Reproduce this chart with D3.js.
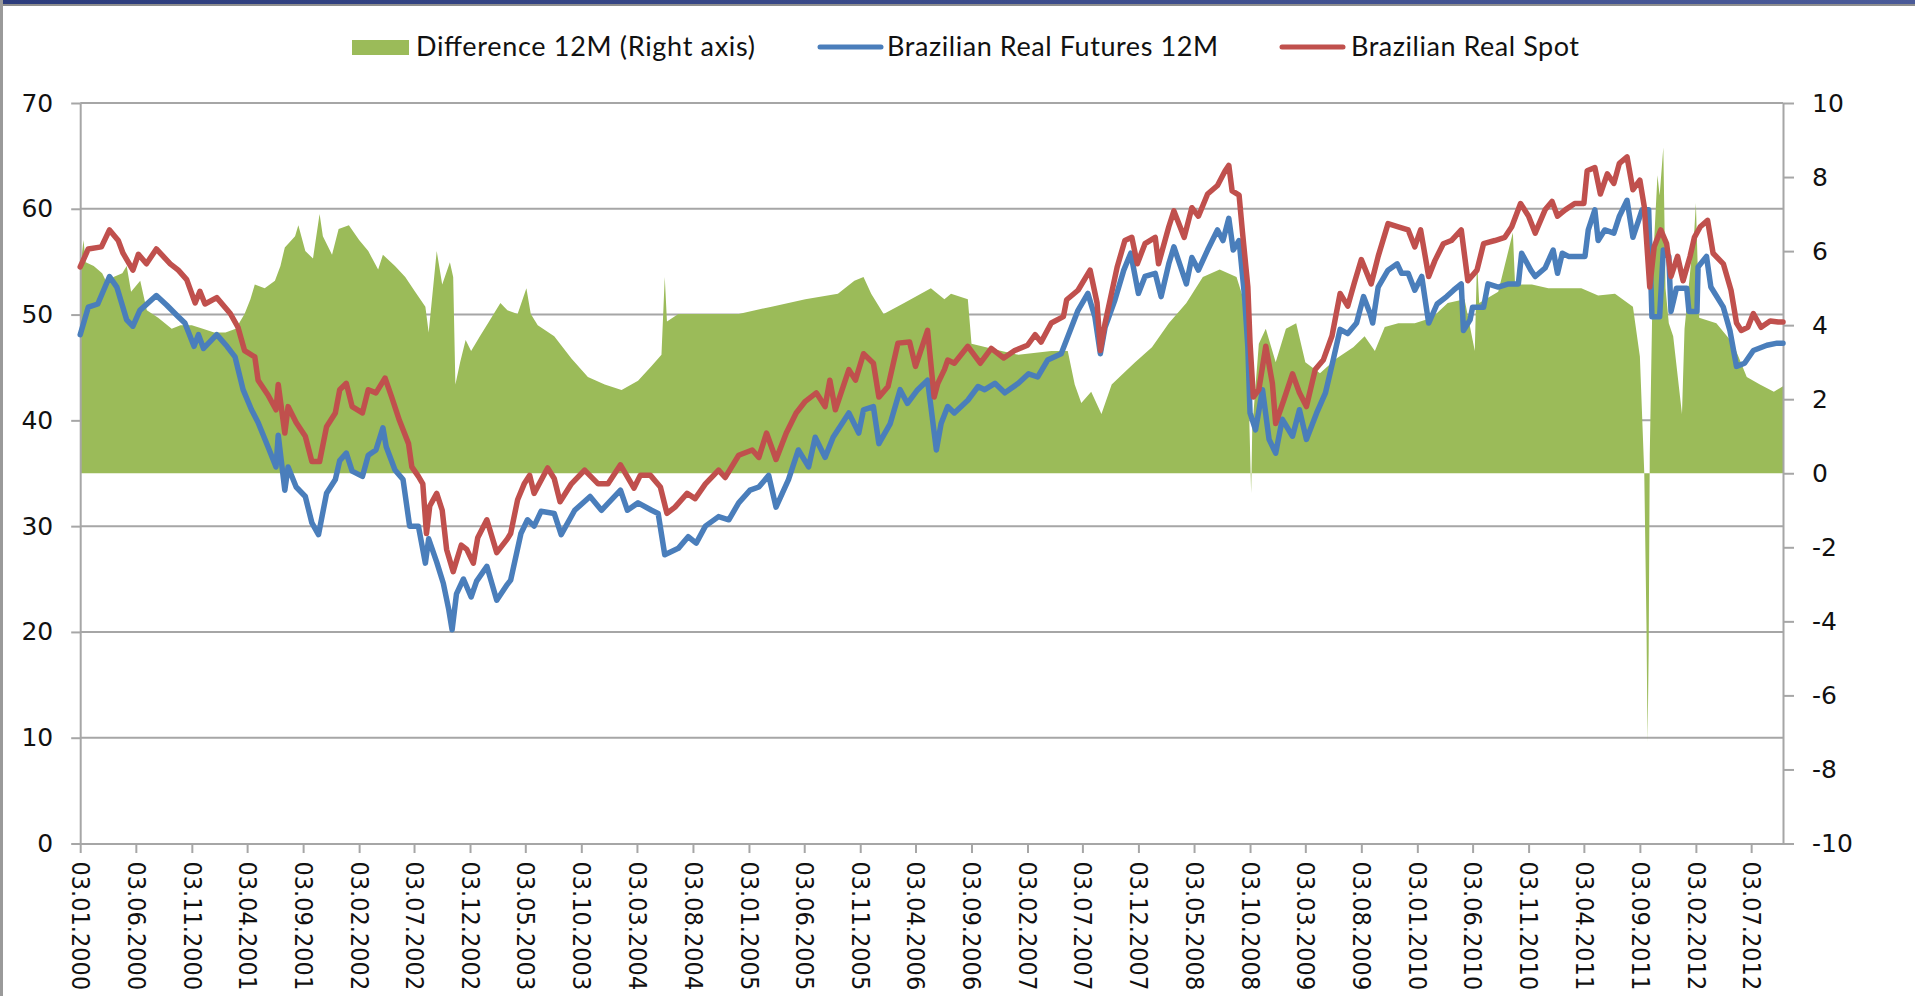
<!DOCTYPE html>
<html><head><meta charset="utf-8">
<script src="https://cdn.jsdelivr.net/npm/d3@7"></script>
<style>html,body{margin:0;padding:0;background:#fff;overflow:hidden}</style>
</head><body>
<svg id="chart" width="1915" height="996"></svg>
<script>
// ---------- DATA ----------
const legendLabels = ["Difference 12M (Right axis)", "Brazilian Real Futures 12M", "Brazilian Real Spot"];
const tickLabels = ["03.01.2000","03.06.2000","03.11.2000","03.04.2001","03.09.2001","03.02.2002","03.07.2002","03.12.2002","03.05.2003","03.10.2003","03.03.2004","03.08.2004","03.01.2005","03.06.2005","03.11.2005","03.04.2006","03.09.2006","03.02.2007","03.07.2007","03.12.2007","03.05.2008","03.10.2008","03.03.2009","03.08.2009","03.01.2010","03.06.2010","03.11.2010","03.04.2011","03.09.2011","03.02.2012","03.07.2012"];
const leftTicks = [0,10,20,30,40,50,60,70];
const rightTicks = [-10,-8,-6,-4,-2,0,2,4,6,8,10];

const spotData = [
["2000-01-03",54.5],["2000-01-25",56.2],["2000-03-01",56.4],["2000-03-23",58.0],["2000-04-16",57.0],["2000-04-29",55.8],
["2000-05-26",54.2],["2000-06-10",55.7],["2000-07-02",54.8],["2000-07-29",56.2],["2000-09-05",54.8],["2000-09-27",54.2],
["2000-10-20",53.3],["2000-11-12",51.1],["2000-11-25",52.2],["2000-12-09",51.0],["2001-01-10",51.6],["2001-02-16",50.1],
["2001-03-09",48.8],["2001-03-27",46.6],["2001-04-24",46.0],["2001-05-03",43.8],["2001-05-30",42.4],["2001-06-21",41.0],
["2001-06-27",43.4],["2001-07-15",38.8],["2001-07-24",41.3],["2001-08-15",39.8],["2001-09-09",38.5],["2001-09-27",36.1],
["2001-10-18",36.1],["2001-11-06",39.4],["2001-11-30",40.7],["2001-12-12",42.9],["2001-12-30",43.5],["2002-01-15",41.3],
["2002-02-12",40.7],["2002-02-28",42.9],["2002-03-21",42.6],["2002-04-15",44.0],["2002-05-03",42.2],["2002-05-24",40.0],
["2002-06-18",37.8],["2002-06-27",35.6],["2002-07-15",34.7],["2002-07-27",34.0],["2002-08-06",29.3],["2002-08-15",31.9],
["2002-09-03",33.1],["2002-09-18",31.5],["2002-09-30",27.8],["2002-10-18",25.7],["2002-11-09",28.2],["2002-11-24",27.8],
["2002-12-12",26.5],["2002-12-24",28.9],["2003-01-18",30.6],["2003-02-14",27.5],["2003-03-15",28.8],["2003-03-24",29.3],
["2003-04-12",32.5],["2003-04-30",34.0],["2003-05-15",34.8],["2003-05-27",33.1],["2003-07-03",35.5],["2003-07-21",34.5],
["2003-08-06",32.3],["2003-09-06",34.0],["2003-10-12",35.3],["2003-11-18",34.0],["2003-12-15",34.0],["2004-01-18",35.8],
["2004-02-24",33.6],["2004-03-12",34.8],["2004-04-09",34.8],["2004-05-06",33.7],["2004-05-24",31.2],["2004-06-15",31.8],
["2004-07-18",33.1],["2004-08-09",32.6],["2004-09-06",34.0],["2004-10-12",35.3],["2004-10-30",34.6],["2004-12-06",36.7],
["2005-01-12",37.2],["2005-01-30",36.5],["2005-02-20",38.8],["2005-03-18",36.3],["2005-04-15",38.8],["2005-05-12",40.7],
["2005-06-06",41.8],["2005-07-06",42.6],["2005-07-30",41.3],["2005-08-12",43.8],["2005-08-27",41.0],["2005-10-03",44.8],
["2005-10-21",43.8],["2005-11-12",46.3],["2005-12-09",45.4],["2005-12-24",42.2],["2006-01-18",43.2],["2006-02-14",47.3],
["2006-03-18",47.4],["2006-04-03",45.1],["2006-05-06",48.5],["2006-05-24",42.2],["2006-06-03",43.5],["2006-06-21",44.8],
["2006-06-30",45.7],["2006-07-18",45.4],["2006-08-24",47.0],["2006-09-27",45.4],["2006-10-27",46.8],["2006-11-30",45.9],
["2006-12-30",46.6],["2007-02-03",47.1],["2007-02-24",48.1],["2007-03-12",47.4],["2007-04-09",49.2],["2007-05-12",49.8],
["2007-05-21",51.4],["2007-06-21",52.3],["2007-07-24",54.2],["2007-08-12",51.1],["2007-08-21",46.6],["2007-09-03",49.2],
["2007-10-06",54.5],["2007-10-27",57.0],["2007-11-15",57.3],["2007-11-30",54.8],["2007-12-21",56.7],["2008-01-18",57.3],
["2008-01-27",54.8],["2008-02-24",58.3],["2008-03-09",59.8],["2008-04-06",57.3],["2008-04-27",60.1],["2008-05-15",59.3],
["2008-06-09",61.4],["2008-07-06",62.2],["2008-07-27",63.6],["2008-08-06",64.1],["2008-08-15",61.7],["2008-09-03",61.3],
["2008-09-12",57.9],["2008-09-27",52.6],["2008-10-03",47.3],["2008-10-12",42.2],["2008-10-27",42.9],["2008-11-15",47.0],
["2008-12-03",43.5],["2008-12-12",39.7],["2009-01-03",41.9],["2009-01-27",44.4],["2009-02-15",42.6],["2009-03-06",41.3],
["2009-03-30",44.8],["2009-04-21",45.7],["2009-05-15",48.0],["2009-06-06",52.0],["2009-06-27",50.8],["2009-07-15",53.0],
["2009-08-03",55.2],["2009-08-30",52.9],["2009-09-18",55.5],["2009-10-15",58.6],["2009-11-12",58.3],["2009-12-09",58.0],
["2009-12-27",56.4],["2010-01-12",58.0],["2010-02-03",53.6],["2010-02-20",55.1],["2010-03-15",56.7],["2010-04-06",57.0],
["2010-05-03",58.0],["2010-05-21",53.2],["2010-06-15",54.2],["2010-07-03",56.7],["2010-08-03",57.0],["2010-08-30",57.3],
["2010-09-18",58.3],["2010-10-12",60.5],["2010-11-03",59.3],["2010-11-21",57.7],["2010-12-18",59.9],["2011-01-06",60.7],
["2011-01-21",59.3],["2011-02-11",59.9],["2011-03-09",60.5],["2011-04-03",60.5],["2011-04-12",63.6],["2011-05-03",63.9],
["2011-05-18",61.4],["2011-06-06",63.3],["2011-06-24",62.4],["2011-07-09",64.3],["2011-07-30",64.9],["2011-08-15",61.8],
["2011-09-03",62.7],["2011-09-15",60.2],["2011-09-30",52.6],["2011-10-12",56.4],["2011-10-30",58.0],["2011-11-15",56.7],
["2011-11-27",53.6],["2011-12-15",55.5],["2011-12-30",53.2],["2012-01-18",55.5],["2012-01-30",57.3],["2012-02-15",58.3],
["2012-03-06",58.9],["2012-03-21",55.8],["2012-04-18",54.8],["2012-05-09",52.3],["2012-05-24",49.2],["2012-06-06",48.5],
["2012-06-24",48.8],["2012-07-09",50.1],["2012-07-30",48.8],["2012-08-24",49.4],["2012-09-15",49.3],["2012-09-28",49.3]
];

const futuresData = [
["2000-01-03",48.1],["2000-01-25",50.7],["2000-02-20",51.0],["2000-03-23",53.6],["2000-04-12",52.6],["2000-05-09",49.5],
["2000-05-26",48.9],["2000-06-14",50.4],["2000-07-29",51.8],["2000-08-26",50.9],["2000-09-27",49.8],["2000-10-15",49.2],
["2000-11-09",47.0],["2000-11-21",48.1],["2000-12-05",46.8],["2001-01-10",48.1],["2001-02-07",47.0],["2001-03-01",46.0],
["2001-03-23",42.9],["2001-04-15",41.0],["2001-05-03",39.8],["2001-05-30",37.5],["2001-06-21",35.6],["2001-06-27",38.6],
["2001-07-15",33.4],["2001-07-24",35.6],["2001-08-15",33.7],["2001-09-09",32.8],["2001-09-27",30.3],["2001-10-15",29.2],
["2001-11-06",33.1],["2001-11-30",34.4],["2001-12-12",36.2],["2001-12-30",36.9],["2002-01-15",35.2],["2002-02-12",34.7],
["2002-02-28",36.7],["2002-03-21",37.2],["2002-04-09",39.3],["2002-04-18",37.5],["2002-05-12",35.3],["2002-06-03",34.4],
["2002-06-21",30.0],["2002-07-15",30.0],["2002-08-03",26.5],["2002-08-12",28.8],["2002-09-03",26.6],["2002-09-21",24.6],
["2002-10-06",22.1],["2002-10-15",20.2],["2002-10-27",23.6],["2002-11-15",25.0],["2002-12-06",23.3],["2002-12-21",24.8],
["2003-01-18",26.2],["2003-02-14",23.0],["2003-03-15",24.5],["2003-03-24",24.9],["2003-04-21",29.3],["2003-05-09",30.6],
["2003-05-27",30.0],["2003-06-15",31.4],["2003-07-21",31.2],["2003-08-09",29.2],["2003-09-15",31.5],["2003-10-27",32.8],
["2003-11-27",31.5],["2004-01-18",33.4],["2004-02-06",31.5],["2004-03-06",32.2],["2004-04-12",31.5],["2004-04-30",31.2],
["2004-05-18",27.3],["2004-06-24",27.9],["2004-07-21",29.0],["2004-08-12",28.4],["2004-09-06",30.0],["2004-10-12",30.9],
["2004-11-09",30.6],["2004-12-06",32.2],["2005-01-06",33.4],["2005-01-30",33.7],["2005-02-26",34.8],["2005-03-18",31.8],
["2005-04-21",34.4],["2005-05-18",37.2],["2005-06-15",35.6],["2005-07-03",38.4],["2005-07-30",36.5],["2005-08-21",38.4],
["2005-10-03",40.7],["2005-10-30",38.8],["2005-11-12",41.0],["2005-12-09",41.3],["2005-12-24",37.8],["2006-01-24",39.7],
["2006-02-20",42.9],["2006-03-12",41.6],["2006-04-09",42.9],["2006-05-06",43.8],["2006-05-30",37.2],["2006-06-12",39.7],
["2006-06-30",41.3],["2006-07-18",40.7],["2006-08-24",41.9],["2006-09-21",43.2],["2006-10-09",42.9],["2006-11-06",43.5],
["2006-12-03",42.6],["2007-01-09",43.5],["2007-02-06",44.4],["2007-03-03",44.1],["2007-03-30",45.7],["2007-05-06",46.3],
["2007-05-24",47.9],["2007-06-21",50.4],["2007-07-18",52.0],["2007-08-06",49.8],["2007-08-21",46.3],["2007-09-03",48.8],
["2007-09-30",51.4],["2007-10-24",54.2],["2007-11-12",55.8],["2007-12-03",52.0],["2007-12-21",53.6],["2008-01-18",53.9],
["2008-02-03",51.7],["2008-02-24",54.8],["2008-03-09",56.4],["2008-04-12",52.9],["2008-04-27",55.4],["2008-05-15",54.2],
["2008-06-09",56.1],["2008-07-06",58.0],["2008-07-21",57.0],["2008-08-06",59.1],["2008-08-18",56.1],["2008-09-03",57.0],
["2008-09-18",51.7],["2008-09-27",46.9],["2008-10-03",40.7],["2008-10-18",39.1],["2008-11-06",42.9],["2008-11-24",38.2],
["2008-12-12",36.9],["2008-12-30",40.1],["2009-01-27",38.5],["2009-02-15",41.0],["2009-03-06",38.2],["2009-04-03",40.7],
["2009-04-27",42.6],["2009-05-18",45.7],["2009-06-06",48.6],["2009-06-27",48.2],["2009-07-21",49.2],["2009-08-09",51.7],
["2009-08-27",50.1],["2009-09-03",49.2],["2009-09-18",52.6],["2009-10-15",54.2],["2009-11-09",54.8],["2009-11-21",53.9],
["2009-12-09",53.9],["2009-12-27",52.3],["2010-01-15",53.6],["2010-02-03",49.2],["2010-02-26",51.0],["2010-03-24",51.7],
["2010-04-12",52.3],["2010-05-03",52.9],["2010-05-09",48.5],["2010-05-27",49.5],["2010-06-03",50.7],["2010-07-03",50.7],
["2010-07-15",52.9],["2010-08-12",52.6],["2010-09-09",52.9],["2010-10-06",52.9],["2010-10-15",55.8],["2010-11-09",54.2],
["2010-11-21",53.6],["2010-12-18",54.4],["2011-01-09",56.1],["2011-01-21",53.9],["2011-02-03",55.8],["2011-02-20",55.5],
["2011-04-06",55.5],["2011-04-15",58.0],["2011-05-03",59.9],["2011-05-12",57.0],["2011-05-30",58.0],["2011-06-24",57.7],
["2011-07-09",59.3],["2011-07-30",60.8],["2011-08-15",57.3],["2011-09-09",59.9],["2011-09-27",59.9],["2011-10-06",49.8],
["2011-10-27",49.8],["2011-11-06",56.1],["2011-11-21",55.5],["2011-11-27",50.3],["2011-12-12",52.5],["2012-01-09",52.5],
["2012-01-15",50.3],["2012-02-06",50.3],["2012-02-09",54.5],["2012-03-03",55.5],["2012-03-15",52.6],["2012-04-18",50.7],
["2012-05-06",48.5],["2012-05-24",45.1],["2012-06-15",45.4],["2012-07-09",46.6],["2012-08-15",47.1],["2012-09-12",47.3],
["2012-09-28",47.3]
];

const diffData = [
["2000-01-03",5.5],["2000-01-12",6.3],["2000-01-18",5.7],["2000-02-09",5.6],["2000-03-03",5.4],["2000-03-18",5.1],
["2000-04-03",5.3],["2000-04-27",5.4],["2000-05-09",5.6],["2000-05-21",4.9],["2000-06-15",5.2],["2000-07-03",4.4],
["2000-08-03",4.2],["2000-09-09",3.9],["2000-10-03",4.0],["2000-11-03",4.0],["2000-12-03",3.9],["2001-01-03",3.8],
["2001-02-03",3.8],["2001-03-03",3.9],["2001-03-27",4.3],["2001-04-12",4.7],["2001-04-24",5.1],["2001-05-21",5.0],
["2001-06-18",5.2],["2001-07-03",5.6],["2001-07-15",6.1],["2001-08-12",6.4],["2001-08-21",6.7],["2001-09-09",6.0],
["2001-09-30",5.8],["2001-10-18",7.0],["2001-10-27",6.4],["2001-11-21",5.9],["2001-12-09",6.6],["2002-01-06",6.7],
["2002-02-03",6.3],["2002-02-28",6.0],["2002-03-27",5.5],["2002-04-09",5.9],["2002-05-12",5.6],["2002-06-09",5.3],
["2002-07-06",4.9],["2002-08-03",4.5],["2002-08-12",3.8],["2002-09-03",6.0],["2002-09-18",5.1],["2002-10-09",5.7],
["2002-10-18",5.3],["2002-10-24",2.4],["2002-11-06",3.0],["2002-11-21",3.6],["2002-12-06",3.3],["2002-12-30",3.7],
["2003-01-24",4.1],["2003-02-24",4.6],["2003-03-15",4.4],["2003-04-12",4.3],["2003-05-06",5.0],["2003-05-18",4.3],
["2003-06-06",4.0],["2003-07-21",3.7],["2003-09-06",3.1],["2003-10-21",2.6],["2003-12-06",2.4],["2004-01-21",2.25],
["2004-03-06",2.5],["2004-04-12",2.9],["2004-05-09",3.2],["2004-05-18",5.3],["2004-05-24",4.1],["2004-06-24",4.3],
["2004-09-06",4.3],["2004-12-06",4.3],["2005-03-06",4.5],["2005-06-06",4.7],["2005-09-03",4.85],["2005-10-18",5.2],
["2005-11-12",5.3],["2005-12-03",4.85],["2006-01-06",4.3],["2006-03-03",4.6],["2006-05-15",5.0],["2006-06-21",4.7],
["2006-07-09",4.85],["2006-08-24",4.7],["2006-09-03",3.5],["2006-11-24",3.3],["2007-01-09",3.2],["2007-04-09",3.3],
["2007-05-24",3.3],["2007-06-12",2.4],["2007-06-30",1.9],["2007-07-27",2.2],["2007-08-24",1.6],["2007-09-21",2.4],
["2007-11-03",2.8],["2007-11-24",3.0],["2008-01-09",3.4],["2008-02-24",4.05],["2008-04-12",4.6],["2008-05-27",5.3],
["2008-07-12",5.5],["2008-08-27",5.3],["2008-09-12",4.8],["2008-09-27",3.0],["2008-10-06",-0.55],["2008-10-09",1.2],
["2008-10-27",3.5],["2008-11-15",3.9],["2008-12-12",3.0],["2009-01-09",3.9],["2009-02-06",4.05],["2009-03-03",3.0],
["2009-04-12",2.7],["2009-05-27",3.1],["2009-07-12",3.4],["2009-08-12",3.7],["2009-09-09",3.3],["2009-10-06",3.95],
["2009-11-12",4.05],["2009-12-27",4.05],["2010-02-12",4.2],["2010-03-27",4.6],["2010-05-12",4.7],["2010-06-09",3.3],
["2010-06-15",5.75],["2010-06-21",4.6],["2010-08-12",4.9],["2010-09-21",6.5],["2010-09-27",5.1],["2010-11-12",5.1],
["2010-12-27",5.0],["2011-02-11",5.0],["2011-03-27",5.0],["2011-05-12",4.8],["2011-06-27",4.85],["2011-08-15",4.5],
["2011-09-03",3.15],["2011-09-15",0.0],["2011-09-21",-4.1],["2011-09-24",-7.27],["2011-09-27",-4.8],["2011-09-30",0.5],
["2011-10-09",5.7],["2011-10-21",8.05],["2011-10-27",7.5],["2011-11-06",8.8],["2011-11-12",5.0],["2011-11-21",4.05],
["2011-12-03",3.7],["2011-12-27",1.6],["2012-01-03",3.9],["2012-01-30",6.6],["2012-02-03",7.3],["2012-02-12",4.2],
["2012-03-30",4.05],["2012-05-15",3.5],["2012-06-21",2.6],["2012-07-27",2.4],["2012-09-03",2.2],["2012-09-28",2.35]
];

// ---------- CHART ----------
const parse = d3.timeParse("%Y-%m-%d");
const parseTick = d3.timeParse("%d.%m.%Y");
const toObj = arr => arr.map(d => ({date: parse(d[0]), v: d[1]}));
const spot = toObj(spotData), fut = toObj(futuresData), diff = toObj(diffData);

const plot = {left: 80.2, right: 1783, top: 103, bottom: 843.5};
const svg = d3.select("#chart");
const colors = {diff: "#9bbb59", fut: "#4a7ebb", spot: "#c0504d", grid: "#a6a6a6", text: "#111"};

const x = d3.scaleTime()
  .domain([spot[0].date, spot[spot.length-1].date])
  .range([plot.left, plot.right]);
const yL = d3.scaleLinear().domain([0, 70]).range([plot.bottom, plot.top]);
const yR = d3.scaleLinear().domain([-10, 10]).range([plot.bottom, plot.top]);

// frame decoration
const defs = svg.append("defs");
const grad = defs.append("linearGradient").attr("id", "topbar").attr("x1", "0").attr("x2", "1");
grad.append("stop").attr("offset", "0").attr("stop-color", "#2c3c7c");
grad.append("stop").attr("offset", "1").attr("stop-color", "#4a5a98");
svg.append("rect").attr("x", 0).attr("y", 0).attr("width", 1915).attr("height", 996).attr("fill", "#fff");
svg.append("rect").attr("x", 0).attr("y", 0).attr("width", 1915).attr("height", 4).attr("fill", "url(#topbar)");
svg.append("rect").attr("x", 0).attr("y", 4).attr("width", 1915).attr("height", 2).attr("fill", "#8e8e8e");
svg.append("rect").attr("x", 0).attr("y", 0).attr("width", 3).attr("height", 996).attr("fill", "#9a9a9a");

// gridlines (behind series)
svg.append("g").selectAll("line").data(leftTicks.filter(v => v !== 0)).join("line")
  .attr("x1", plot.left).attr("x2", plot.right)
  .attr("y1", d => yL(d)).attr("y2", d => yL(d))
  .attr("stroke", colors.grid).attr("stroke-width", 2);

// difference columns (area to zero on right axis)
const area = d3.area().x(d => x(d.date)).y0(yR(0)).y1(d => yR(d.v)).curve(d3.curveLinear);
svg.append("path").datum(diff).attr("d", area).attr("fill", colors.diff);

// axes
const fontAxis = "'DejaVu Sans', sans-serif";
function styleAxis(g) {
  g.selectAll(".domain").attr("stroke", colors.grid).attr("stroke-width", 2);
  g.selectAll(".tick line").attr("stroke", colors.grid).attr("stroke-width", 2);
  g.selectAll("text").attr("fill", colors.text).style("font-family", fontAxis);
}
const gL = svg.append("g").attr("transform", `translate(${plot.left},0)`)
  .call(d3.axisLeft(yL).tickValues(leftTicks).tickSize(9).tickSizeOuter(0).tickPadding(18).tickFormat(d3.format("d")));
styleAxis(gL); gL.selectAll("text").style("font-size", "25px");

const gR = svg.append("g").attr("transform", `translate(${plot.right},0)`)
  .call(d3.axisRight(yR).tickValues(rightTicks).tickSize(11).tickSizeOuter(0).tickPadding(18).tickFormat(d => d3.format("d")(d).replace("−", "-")));
styleAxis(gR); gR.selectAll("text").style("font-size", "25px");

const tickDates = tickLabels.map(parseTick);
const gB = svg.append("g").attr("transform", `translate(0,${plot.bottom})`)
  .call(d3.axisBottom(x).tickValues(tickDates).tickSize(9.5).tickSizeOuter(0)
    .tickFormat((d, i) => tickLabels[i]));
styleAxis(gB);
gB.selectAll("text")
  .attr("transform", "rotate(90)")
  .attr("x", 18).attr("y", 0).attr("dy", "0.35em")
  .style("text-anchor", "start")
  .style("font-family", "'DejaVu Sans Condensed', 'DejaVu Sans', sans-serif")
  .style("font-size", "25px");

// lines
const line = (yScale) => d3.line().x(d => x(d.date)).y(d => yScale(d.v)).curve(d3.curveLinear);
svg.append("path").datum(fut).attr("d", line(yL)).attr("fill", "none")
  .attr("stroke", colors.fut).attr("stroke-width", 5.5).attr("stroke-linejoin", "round").attr("stroke-linecap", "round");
svg.append("path").datum(spot).attr("d", line(yL)).attr("fill", "none")
  .attr("stroke", colors.spot).attr("stroke-width", 5.5).attr("stroke-linejoin", "round").attr("stroke-linecap", "round");

// legend
const legFont = "Lato, 'Open Sans', sans-serif";
const leg = svg.append("g");
leg.append("rect").attr("x", 352).attr("y", 40).attr("width", 57).attr("height", 15).attr("fill", colors.diff);
leg.append("line").attr("x1", 820).attr("x2", 881).attr("y1", 47).attr("y2", 47)
  .attr("stroke", colors.fut).attr("stroke-width", 5).attr("stroke-linecap", "round");
leg.append("line").attr("x1", 1282).attr("x2", 1343).attr("y1", 47).attr("y2", 47)
  .attr("stroke", colors.spot).attr("stroke-width", 5).attr("stroke-linecap", "round");
const legText = [
  {t: legendLabels[0], x: 416, w: 339},
  {t: legendLabels[1], x: 887, w: 331},
  {t: legendLabels[2], x: 1351, w: 228}
];
leg.selectAll("text").data(legText).join("text")
  .attr("x", d => d.x).attr("y", 56)
  .attr("textLength", d => d.w).attr("lengthAdjust", "spacing")
  .style("font-family", legFont).style("font-size", "27px").attr("fill", colors.text)
  .text(d => d.t);
</script>
</body></html>
